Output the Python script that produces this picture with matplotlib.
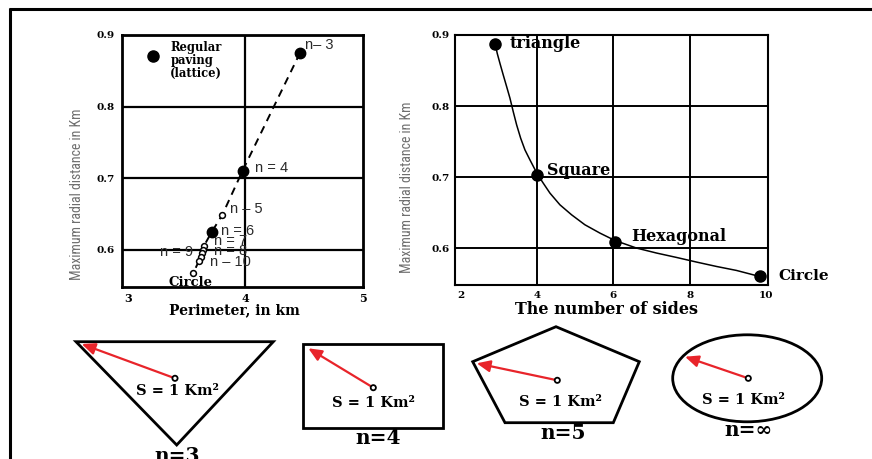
import matplotlib
matplotlib.use("Agg")
import matplotlib.pyplot as plt
from matplotlib import font_manager
from matplotlib.patches import Polygon, Rectangle, Ellipse, Circle

# ---------------- data ----------------
# left chart: perimeter vs max radial distance
left_labels = ["n\u2013 3", "n = 4", "n \u2013 5", "n = 6", "n = 7", "n = 8", "n = 9", "n \u2013 10", "", "Circle"]
left_perim = [4.464, 3.976, 3.803, 3.712, 3.647, 3.636, 3.630, 3.619, 3.604, 3.556]
left_radial = [0.875, 0.7107, 0.6489, 0.6247, 0.6056, 0.600, 0.5954, 0.5902, 0.5847, 0.5675]
left_filled = [True, True, False, True, False, False, False, False, False, False]
paving_x = [3.215]
paving_y = [0.871]

left_xticks = [3, 4, 5]
left_yticks = [0.6, 0.7, 0.8, 0.9]

# right chart: number of sides vs max radial distance
right_labels = ["triangle", "Square", "Hexagonal", "Circle"]
right_sides = [2.90, 4.0, 6.04, 9.83]
right_radial = [0.888, 0.703, 0.609, 0.560]
# curve
curve_x = [2.90, 2.957, 3.028, 3.114, 3.203, 3.290, 3.376, 3.465, 3.570, 3.682, 3.813, 4.004,
           4.162, 4.337, 4.599, 4.905, 5.253, 5.646, 6.038, 6.606, 7.13, 7.654, 8.177, 8.701,
           9.224, 9.83]
curve_y = [0.888, 0.874, 0.860, 0.8437, 0.8273, 0.811, 0.792, 0.7734, 0.7547, 0.7383, 0.7242, 0.7045,
           0.6914, 0.6774, 0.6609, 0.6468, 0.6328, 0.6211, 0.6107, 0.6000, 0.593, 0.5868, 0.5803, 0.5741,
           0.5685, 0.560]

right_xticks = [2, 4, 6, 8, 10]
right_yticks = [0.6, 0.7, 0.8, 0.9]

shape_titles = ["n=3", "n=4", "n=5", "n=\u221e"]
area_text = "S = 1 Km\u00b2"

# ---------------- fonts ----------------
avail = {f.name for f in font_manager.fontManager.ttflist}
def pick(*names):
    for n in names:
        if n in avail:
            return n
    return "DejaVu Sans"

SERIF = pick("DejaVu Serif", "Liberation Serif")
SANS = pick("Liberation Sans", "DejaVu Sans")
NARROW = pick("Liberation Sans Narrow", "DejaVu Sans Condensed", "Roboto Condensed", "Liberation Sans")

W, H = 872, 459
fig = plt.figure(figsize=(W / 100, H / 100), dpi=100)

def ax_rect(l, r, t, b):
    return [l / W, 1 - b / H, (r - l) / W, (b - t) / H]

# overlay for frame and illustrations (pixel coordinates)
ov = fig.add_axes([0, 0, 1, 1])
ov.set_xlim(0, W)
ov.set_ylim(H, 0)
ov.axis("off")
ov.plot([9, W], [8.5, 8.5], color="black", lw=2.2, solid_capstyle="butt")
ov.plot([10, 10], [8, H], color="black", lw=2.2, solid_capstyle="butt")

tickkw = dict(fontfamily=SERIF, fontweight="bold")

# ---------------- left chart ----------------
axL = fig.add_axes(ax_rect(122, 363, 35, 287))
axL.set_xlim(2.949, 5.0)
axL.set_ylim(0.548, 0.9)
axL.set_xticks(left_xticks)
axL.set_yticks(left_yticks)
axL.set_xticklabels([str(v) for v in left_xticks], fontsize=8, **tickkw)
axL.set_yticklabels(["%.1f" % v for v in left_yticks], fontsize=7.5, **tickkw)
axL.tick_params(axis="y", length=0, pad=5)
axL.tick_params(axis="x", length=0, pad=4)
axL.grid(True, axis="y", color="black", lw=1.6)
for v in left_xticks[1:-1]:
    axL.axvline(v, color="black", lw=1.6, zorder=0.5)
for s in axL.spines.values():
    s.set_linewidth(2.0)
axL.plot(left_perim, left_radial, ls=(0, (4, 3)), color="black", lw=1.4, zorder=3)
for x, y, f in zip(left_perim, left_radial, left_filled):
    if f:
        axL.plot(x, y, "o", color="black", ms=7.5, zorder=4)
    else:
        axL.plot(x, y, "o", mfc="white", mec="black", mew=1.1, ms=4.2, zorder=4)
axL.plot(paving_x, paving_y, "o", color="black", ms=8, zorder=4)
axL.text(3.36, 0.891, "Regular\npaving\n(lattice)", fontfamily=SERIF, fontweight="bold",
         fontsize=8.3, va="top", ha="left", linespacing=1.0)
left_offsets = [(5, 8, "left"), (12, 3, "left"), (8, 6, "left"), (9, 1, "left"), (10, 5, "left"),
                (11, -1, "left"), (-9, 1, "right"), (9, -5, "left"), (0, 0, "left"), (-3, -9, "center")]
for lab, x, y, (dx, dy, ha) in zip(left_labels, left_perim, left_radial, left_offsets):
    if not lab:
        continue
    if lab == "Circle":
        axL.annotate(lab, (x, y), xytext=(dx, dy), textcoords="offset pixels", ha=ha, va="center",
                     fontfamily=SERIF, fontweight="bold", fontsize=9.5, zorder=5)
    else:
        axL.annotate(lab, (x, y), xytext=(dx, dy), textcoords="offset pixels", ha=ha, va="center",
                     fontfamily=SANS, fontsize=10.5, color="#2a2a2a", zorder=5)
axL.set_xlabel("Perimeter, in km", fontfamily=SERIF, fontweight="bold", fontsize=10)
axL.xaxis.set_label_coords(0.465, -0.066, transform=axL.transAxes)
axL.xaxis.label.set_va("top")
axL.set_ylabel("Maximum radial distance in Km", fontfamily=NARROW, fontsize=10, color="#6e6e6e")
axL.yaxis.set_label_coords(-0.158, 0.37)

# ---------------- right chart ----------------
axR = fig.add_axes(ax_rect(455, 768, 35, 285))
axR.set_xlim(1.85, 10.05)
axR.set_ylim(0.548, 0.9)
axR.set_xticks(right_xticks)
axR.set_yticks(right_yticks)
axR.set_xticklabels([str(v) for v in right_xticks], fontsize=7.5, **tickkw)
axR.set_yticklabels(["%.1f" % v for v in right_yticks], fontsize=7.5, **tickkw)
axR.tick_params(length=0, pad=4)
axR.grid(True, axis="y", color="black", lw=1.4)
for v in right_xticks[1:-1]:
    axR.axvline(v, color="black", lw=1.4, zorder=0.5)
for s in axR.spines.values():
    s.set_linewidth(1.5)
axR.plot(curve_x, curve_y, color="black", lw=1.1, zorder=3)
axR.plot(right_sides, right_radial, "o", color="black", ms=8, zorder=4, clip_on=False)
right_offsets = [(15, 0), (10, 4), (16, 5), (19, 0)]
right_sizes = [11.5, 11.5, 11.5, 11]
for lab, x, y, (dx, dy), fs in zip(right_labels, right_sides, right_radial, right_offsets, right_sizes):
    axR.annotate(lab, (x, y), xytext=(dx, dy), textcoords="offset pixels", ha="left", va="center",
                 fontfamily=SERIF, fontweight="bold", fontsize=fs, zorder=5, annotation_clip=False)
axR.set_xlabel("The number of sides", fontfamily=SERIF, fontweight="bold", fontsize=11.5)
axR.xaxis.set_label_coords(0.485, -0.062, transform=axR.transAxes)
axR.xaxis.label.set_va("top")
axR.set_ylabel("Maximum radial distance in Km", fontfamily=NARROW, fontsize=10, color="#6e6e6e")
axR.yaxis.set_label_coords(-0.131, 0.39)

# ---------------- illustrations ----------------
RED = "#e8242a"
def arrow(x0, y0, x1, y1):
    ov.annotate("", xy=(x1, y1), xytext=(x0, y0),
                arrowprops=dict(arrowstyle="-|>,head_length=0.8,head_width=0.35", color=RED, lw=1.6,
                                shrinkA=0, shrinkB=0))
def center_dot(x, y):
    ov.add_patch(Circle((x, y), 2.6, fc="white", ec="black", lw=1.3, zorder=6))

txtkw = dict(fontfamily=SERIF, fontweight="bold", fontsize=10.5, ha="center", va="center", zorder=7)
titlekw = dict(fontfamily=SERIF, fontweight="bold", fontsize=14.5, ha="center", va="center")

# triangle
ov.add_patch(Polygon([[76, 341.7], [273.3, 341.7], [176.7, 445]], closed=True, fill=False, ec="black", lw=2))
arrow(175, 378.3, 81.7, 344)
center_dot(175, 378.3)
ov.text(177, 391, area_text, **txtkw)
ov.text(176.7, 456, shape_titles[0], **titlekw)

# square
ov.add_patch(Rectangle((302.7, 344.3), 140, 84, fill=False, ec="black", lw=2))
arrow(373.3, 387.7, 308.3, 348.3)
center_dot(373.3, 387.7)
ov.text(373.3, 403.3, area_text, **txtkw)
ov.text(378.3, 438.3, shape_titles[1], **titlekw)

# pentagon
ov.add_patch(Polygon([[556, 326.7], [639.3, 361.7], [613.3, 422.7], [505, 422.7], [472.7, 361.7]],
                     closed=True, fill=False, ec="black", lw=2))
arrow(557.3, 380.3, 476.7, 363.3)
center_dot(557.3, 380.3)
ov.text(560, 401.7, area_text, **txtkw)
ov.text(563.3, 433.3, shape_titles[2], **titlekw)

# circle
ov.add_patch(Ellipse((747.2, 378.3), 149, 87, fill=False, ec="black", lw=2))
arrow(748.3, 378.3, 685, 356.7)
center_dot(748.3, 378.3)
ov.text(743.3, 400, area_text, **txtkw)
ov.text(748.3, 430, shape_titles[3], **titlekw)

fig.savefig("out.png", dpi=100)
